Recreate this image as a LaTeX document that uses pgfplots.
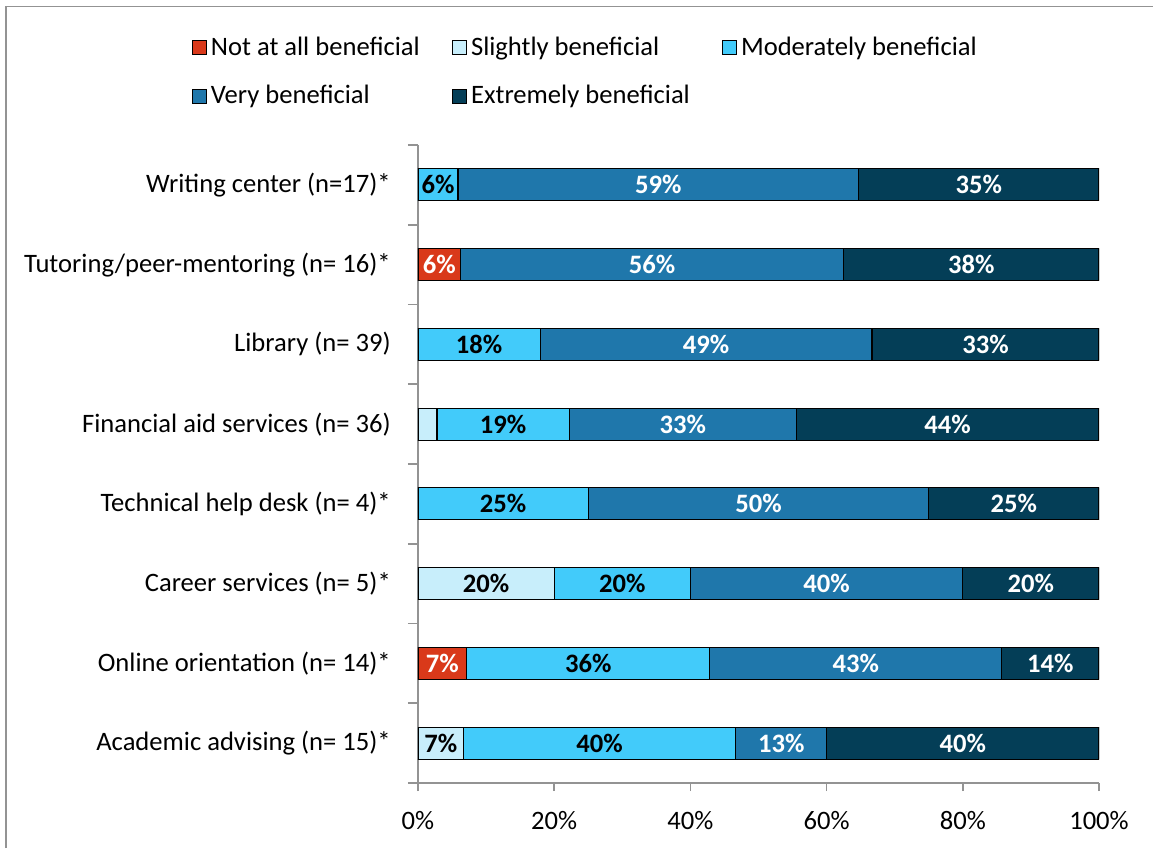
\documentclass[border=0pt]{standalone}
\usepackage{fontspec}
\setmainfont{Carlito}
\usepackage{pgfplots}
\pgfplotsset{compat=1.18}
\usepackage{pgfplotstable}

\definecolor{cNot}{RGB}{217,57,26}
\definecolor{cSlight}{RGB}{200,238,251}
\definecolor{cMod}{RGB}{66,203,250}
\definecolor{cVery}{RGB}{31,119,171}
\definecolor{cExt}{RGB}{4,62,87}

% shares in percent, rows top to bottom
\pgfplotstableread{
y not slight mod very ext
1 0 0 5.88 58.82 35.29
2 6.25 0 0 56.25 37.5
3 0 0 17.95 48.72 33.33
4 0 2.78 19.44 33.33 44.44
5 0 0 25 50 25
6 0 20 20 40 20
7 7.14 0 35.71 42.86 14.29
8 0 6.67 40 13.33 40
}\shares

% stacked bars already centre their nodes; hide the tiny ones
\pgfplotsset{
  lab/.style n args={2}{
    visualization depends on={\thisrow{#1} \as \v},
    nodes near coords={\ifdim\v pt>3pt\relax\pgfmathprintnumber[fixed,precision=0]{\v}\%\fi},
    every node near coord/.append style={text=#2, font=\bfseries, anchor=center},
  },
}

\begin{document}
\fontsize{13.3}{15}\selectfont
\begin{tikzpicture}
\path[use as bounding box] (0,0) rectangle (576.5pt,424pt);
\draw[gray!85, line width=0.9pt] (3pt,0) -- (3pt,420.75pt) -- (576.5pt,420.75pt);
\begin{axis}[
  at={(209pt,32.5pt)}, anchor=south west,
  scale only axis, width=340.5pt, height=319pt,
  xbar stacked, bar width=16pt,
  xmin=0, xmax=100, ymin=0.5, ymax=8.5, y dir=reverse,
  axis x line*=bottom, axis y line*=left,
  axis line style={gray!85, line width=0.8pt},
  tick style={gray!85, line width=0.8pt},
  tick align=outside,
  major tick length=4pt, minor tick length=5pt,
  xtick={0,20,...,100},
  xticklabel={\pgfmathprintnumber{\tick}\%},
  /pgf/number format/assume math mode=true,
  ytick={1,...,8},
  minor ytick={0.5,1.5,...,8.5},
  major y tick style={draw=none},
  yticklabels={Writing center (n=17)*, Tutoring/peer-mentoring (n= 16)*, Library (n= 39), Financial aid services (n= 36), Technical help desk (n= 4)*, Career services (n= 5)*, Online orientation (n= 14)*, Academic advising (n= 15)*},
  yticklabel style={xshift=-5pt},
  xticklabel style={yshift=-5.5pt},
  every axis plot/.append style={draw=black, line width=0.6pt},
  legend columns=3,
  legend cell align=left,
  legend style={at={(0.247,1.183)}, anchor=north, draw=none, fill=none,
    row sep=9pt, /tikz/every even column/.append style={column sep=14pt}},
  legend image code/.code={\draw[#1, draw=black, line width=0.6pt] (0pt,-3.5pt) rectangle (7pt,3.5pt);},
]
\addplot[fill=cNot, lab={not}{white}] table[x=not, y=y] {\shares};
\addplot[fill=cSlight, lab={slight}{black}] table[x=slight, y=y] {\shares};
\addplot[fill=cMod, lab={mod}{black}] table[x=mod, y=y] {\shares};
\addplot[fill=cVery, lab={very}{white}] table[x=very, y=y] {\shares};
\addplot[fill=cExt, lab={ext}{white}] table[x=ext, y=y] {\shares};
\legend{Not at all beneficial, Slightly beneficial, Moderately beneficial, Very beneficial, Extremely beneficial}
\end{axis}
\end{tikzpicture}
\end{document}
